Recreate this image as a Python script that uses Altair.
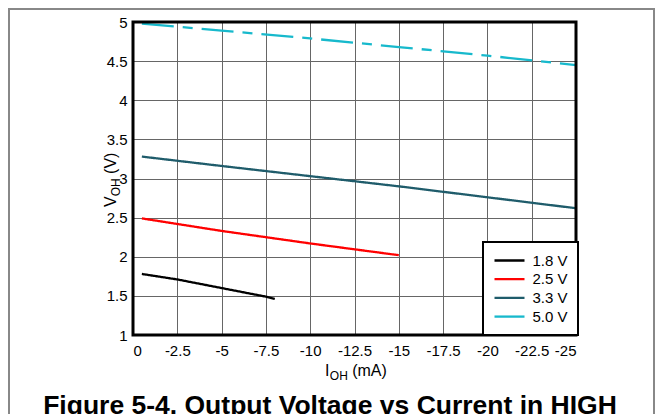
import altair as alt
import pandas as pd

# ---- data ----
series = ["1.8 V", "2.5 V", "3.3 V", "5.0 V"]
colors = ["#000000", "#FF0000", "#1F5C6B", "#17B9CC"]

i_18 = [-0.5, -2.5, -5, -7.5, -8]
v_18 = [1.78, 1.71, 1.60, 1.49, 1.46]
i_25 = [-0.5, -5, -10, -15]
v_25 = [2.49, 2.33, 2.17, 2.02]
i_33 = [-0.5, -5, -10, -15, -20, -25]
v_33 = [3.28, 3.16, 3.03, 2.90, 2.76, 2.62]
i_50 = [-0.5, -5, -10, -15, -20, -25]
v_50 = [4.98, 4.89, 4.79, 4.68, 4.57, 4.45]

x_ticks = [0, -2.5, -5, -7.5, -10, -12.5, -15, -17.5, -20, -22.5, -25]
y_ticks = [1, 1.5, 2, 2.5, 3, 3.5, 4, 4.5, 5]

rows = []
for name, xs, ys in zip(series, [i_18, i_25, i_33, i_50], [v_18, v_25, v_33, v_50]):
    for k, (xv, yv) in enumerate(zip(xs, ys)):
        rows.append({"series": name, "I": xv, "V": yv, "k": k})
df = pd.DataFrame(rows)

FONT = "Liberation Sans"
W, H = 443, 313

lines = alt.Chart(df).mark_line(strokeCap="butt", clip=True).encode(
    x=alt.X("I:Q",
            scale=alt.Scale(domain=[0, -25], nice=False, zero=False),
            axis=alt.Axis(values=x_ticks, labelExpr="'' + datum.value", title=None,
                          grid=True, ticks=False, domain=False, labelPadding=8)),
    y=alt.Y("V:Q",
            scale=alt.Scale(domain=[1, 5], nice=False, zero=False),
            axis=alt.Axis(values=y_ticks, labelExpr="'' + datum.value", title=None,
                          grid=True, ticks=False, domain=False, labelPadding=6)),
    color=alt.Color("series:N",
                    scale=alt.Scale(domain=series, range=colors),
                    legend=alt.Legend(title=None, orient="none", legendX=350, legendY=220,
                                      symbolType="M-2,0H2", symbolSize=225,
                                      symbolStrokeWidth=2.5, symbolOffset=8,
                                      labelOffset=14, labelFontSize=15, labelFont=FONT,
                                      labelColor="black", padding=9.5, rowPadding=1.7,
                                      strokeColor="black", fillColor="white",
                                      cornerRadius=0)),
    strokeDash=alt.StrokeDash("series:N",
                              scale=alt.Scale(domain=series,
                                              range=[[1, 0], [1, 0], [1, 0], [32, 9, 10, 9]]),
                              legend=None),
    strokeWidth=alt.StrokeWidth("series:N",
                                scale=alt.Scale(domain=series, range=[2.3, 2.3, 2.3, 3.5]),
                                legend=None),
    order=alt.Order("k:Q"),
)

dummy = pd.DataFrame({"a": [0]})

frame = alt.Chart(dummy).mark_rect(filled=False, stroke="black", strokeWidth=3).encode(
    x=alt.value(0), x2=alt.value(W), y=alt.value(0), y2=alt.value(H))

border_top = alt.Chart(dummy).mark_rule(color="#888888", strokeWidth=2).encode(
    x=alt.value(-125), x2=alt.value(522), y=alt.value(-13))
border_left = alt.Chart(dummy).mark_rule(color="#888888", strokeWidth=2).encode(
    x=alt.value(-124), y=alt.value(-14), y2=alt.value(392))
border_right = alt.Chart(dummy).mark_rule(color="#888888", strokeWidth=2).encode(
    x=alt.value(521), y=alt.value(-14), y2=alt.value(392))


def txt(s, x, y, size=16, angle=0, weight="normal", align="left"):
    return alt.Chart(dummy).mark_text(text=s, font=FONT, fontSize=size, angle=angle,
                                      fontWeight=weight, align=align,
                                      baseline="alphabetic", color="black").encode(
        x=alt.value(x), y=alt.value(y))

# x-axis title  I_OH (mA)
xt = [txt("I", 192, 354), txt("OH", 196.8, 357.5, size=12), txt("(mA)", 219.2, 354)]
# y-axis title  V_OH (V)  (rotated)
yt = [txt("V", -17, 185, angle=270), txt("OH", -13.5, 174.3, size=12, angle=270),
      txt("(V)", -17, 151.9, angle=270)]
caption = txt("Figure 5-4. Output Voltage vs Current in HIGH", 197, 392, size=26.5,
              weight="bold", align="center")

chart = alt.layer(lines, frame, border_top, border_left, border_right, *xt, *yt, caption).properties(
    width=W, height=H,
    padding={"left": 125, "top": 14, "right": 79, "bottom": 79},
    autosize=alt.AutoSizeParams(type="none"),
).configure_view(stroke=None).configure_axis(
    labelFont=FONT, labelFontSize=15, labelColor="black",
    gridColor="#666666", gridWidth=1, gridOpacity=1,
).configure_legend(strokeWidth=2)

chart.save("out.html", embed_options={"renderer": "svg", "actions": False})
